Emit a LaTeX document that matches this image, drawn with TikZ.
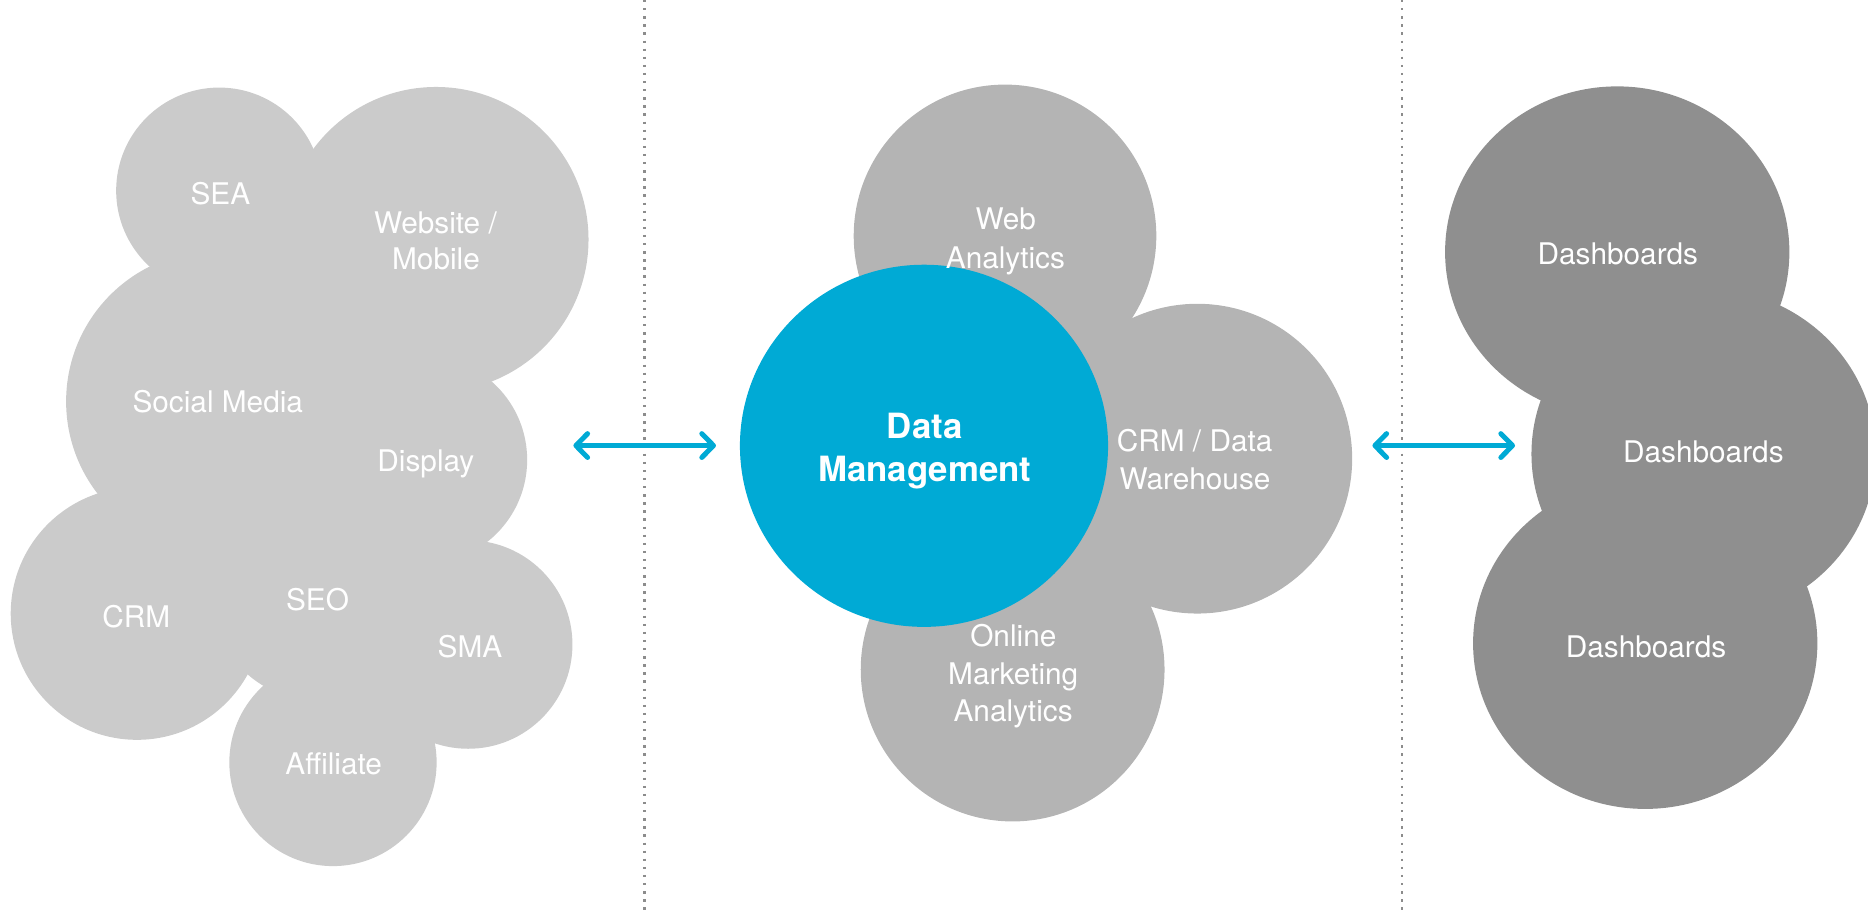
\documentclass[tikz,border=0pt]{standalone}
\usepackage{fontspec}
\setmainfont{TeX Gyre Heros}
\usetikzlibrary{arrows.meta}
\definecolor{lgray}{RGB}{203,203,203}
\definecolor{mgray}{RGB}{180,180,180}
\definecolor{dgray}{RGB}{143,143,143}
\definecolor{dmblue}{RGB}{0,170,213}
\definecolor{sepgray}{RGB}{140,140,140}
\tikzset{
  lbl/.style={text=white, font=\fontsize{12.5}{15}\selectfont, inner sep=0pt, anchor=base},
  blbl/.style={text=white, font=\fontsize{14.6}{17}\selectfont\bfseries, inner sep=0pt, anchor=base},
  sepline/.style={draw=sepgray, line width=1pt, dash pattern=on 1pt off 2.4pt},
  biarrow/.style={draw=dmblue, line width=2.1pt,
    {Straight Barb[length=4.9pt,width=10pt,round]}-{Straight Barb[length=4.9pt,width=10pt,round]}},
}
\begin{document}
\begin{tikzpicture}[x=0.5pt,y=-0.5pt]
\useasboundingbox (0,0) rectangle (1568,766);
\clip (0,0) rectangle (1568,766);

% separators
\coordinate (s1t) at (541,0);  \coordinate (s1b) at (541,766);
\coordinate (s2t) at (1177,0); \coordinate (s2b) at (1177,766);
\draw[sepline] (s1t) -- (s1b);
\draw[sepline] (s2t) -- (s2b);

% left cluster
\fill[lgray] (184,160) circle[radius=86.5];
\fill[lgray] (366,201) circle[radius=128];
\fill[lgray] (182,337) circle[radius=126.5];
\fill[lgray] (355,386) circle[radius=87.5];
\fill[lgray] (115,515) circle[radius=106];
\fill[lgray] (266,500) circle[radius=88];
\fill[lgray] (393,541) circle[radius=87.5];
\fill[lgray] (279.5,640) circle[radius=87];

% middle cluster
\fill[mgray] (843.6,198) circle[radius=127];
\fill[mgray] (1005,385) circle[radius=130];
\fill[mgray] (850,562) circle[radius=127.5];
\fill[dmblue] (775.6,374.2) ellipse[x radius=154.5, y radius=152];

% right cluster
\fill[dgray] (1357.5,211.5) ellipse[x radius=144.5, y radius=139];
\fill[dgray] (1430,381) ellipse[x radius=144.5, y radius=139];
\fill[dgray] (1381,540) ellipse[x radius=144.5, y radius=139];

% left labels
\node[lbl] (sea) at (185,172) {SEA};
\node[lbl] (web1) at (365.5,195.8) {Website /};
\node[lbl] (web2) at (366,226.5) {Mobile};
\node[lbl] (social) at (182.8,346.5) {Social Media};
\node[lbl] (display) at (357.5,395.8) {Display};
\node[lbl] (crm) at (114.4,527) {CRM};
\node[lbl] (seo) at (266.5,512.2) {SEO};
\node[lbl] (sma) at (394.5,551.8) {SMA};
\node[lbl] (affiliate) at (280.1,650.5) {Affiliate};

% middle labels
\node[lbl] (wa1) at (844.3,193) {Web};
\node[lbl] (wa2) at (844,225.2) {Analytics};
\node[lbl] (dw1) at (1002.8,379) {CRM / Data};
\node[lbl] (dw2) at (1003.1,411.2) {Warehouse};
\node[lbl] (om1) at (850.6,542.7) {Online};
\node[lbl] (om2) at (850.5,574.9) {Marketing};
\node[lbl] (om3) at (850.4,605.7) {Analytics};
\node[blbl] (dm1) at (776.2,368.2) {Data};
\node[blbl] (dm2) at (776.2,404) {Management};

% right labels
\node[lbl] (db1) at (1358,222.4) {Dashboards};
\node[lbl] (db2) at (1429.8,388.6) {Dashboards};
\node[lbl] (db3) at (1381.7,551.7) {Dashboards};

% arrows
\coordinate (a1l) at (481.3,374);
\coordinate (a1r) at (601,374);
\coordinate (a2l) at (1152,374);
\coordinate (a2r) at (1271.7,374);
\draw[biarrow] (a1l) -- (a1r);
\draw[biarrow] (a2l) -- (a2r);
\end{tikzpicture}
\end{document}
